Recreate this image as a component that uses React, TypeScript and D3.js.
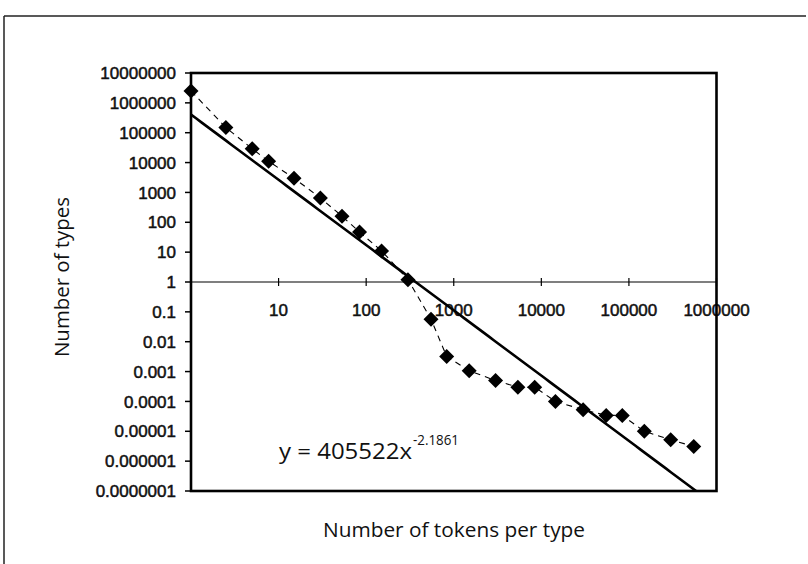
import React from "react";
import * as d3 from "d3";

const tokensPerType = [1, 2.5, 5, 7.7, 15, 30, 53, 84, 150, 300, 550, 830, 1500, 3000, 5400, 8400, 14500, 30000, 55000, 84000, 150000, 300000, 550000];
const numberOfTypes = [2500000, 150000, 29000, 11000, 3000, 650, 160, 47, 11, 1.2, 0.057, 0.0032, 0.00107, 0.0005, 0.0003, 0.0003, 0.0001, 0.000053, 0.000034, 0.000034, 0.00001, 0.0000052, 0.0000031];
const yTickLabels = ["10000000", "1000000", "100000", "10000", "1000", "100", "10", "1", "0.1", "0.01", "0.001", "0.0001", "0.00001", "0.000001", "0.0000001"];
const xTickLabels = ["10", "100", "1000", "10000", "100000", "1000000"];
const fitCoef = 405522;
const fitExp = -2.1861;
const xTitle = "Number of tokens per type";
const yTitle = "Number of types";

const W = 808, H = 564;
const L = 191, R = 716.5, T = 73, B = 491;

export default function App() {
  const x = d3.scaleLog().domain([1, 1e6]).range([L, R]);
  const y = d3.scaleLog().domain([1e-7, 1e7]).range([B, T]);
  const yVals = yTickLabels.map(Number);
  const xVals = xTickLabels.map(Number);
  const pts = tokensPerType.map((t, i) => [t, numberOfTypes[i]] as [number, number]);
  const line = d3.line<[number, number]>().x(d => x(d[0])).y(d => y(d[1]));
  const xEnd = Math.pow(1e-7 / fitCoef, 1 / fitExp);
  const fitPts: [number, number][] = d3.range(0, 101).map(i => {
    const xv = Math.pow(10, (Math.log10(xEnd) * i) / 100);
    return [xv, fitCoef * Math.pow(xv, fitExp)];
  });
  const tickFont = "'Liberation Sans', Arial, sans-serif";
  const titleFont = "'Open Sans', sans-serif";
  return (
    <svg width={W} height={H} style={{ position: "absolute", left: 0, top: 0, background: "#fff" }}>
      {/* outer frame (top and left edges visible) */}
      <line x1={4} y1={16} x2={806} y2={16} stroke="#222" strokeWidth={1.5} />
      <line x1={4} y1={16} x2={4} y2={564} stroke="#222" strokeWidth={1.5} />

      <defs>
        <clipPath id="plot">
          <rect x={L} y={T} width={R - L} height={B - T} />
        </clipPath>
      </defs>

      {/* y ticks and labels */}
      {yVals.map((v, i) => (
        <g key={"y" + i}>
          <line x1={L - 6} x2={L} y1={y(v)} y2={y(v)} stroke="#000" strokeWidth={1.5} />
          <text x={176} y={y(v)} dy="0.36em" textAnchor="end" fontFamily={tickFont} fontSize={17}
            fill="#111" stroke="#111" strokeWidth={0.5}>{yTickLabels[i]}</text>
        </g>
      ))}

      {/* x axis at y = 1 */}
      <line x1={L} x2={R} y1={y(1)} y2={y(1)} stroke="#000" strokeWidth={1.2} />
      {xVals.map((v, i) => (
        <g key={"x" + i}>
          <line x1={x(v)} x2={x(v)} y1={y(1) - 4} y2={y(1) + 4} stroke="#000" strokeWidth={1.2} />
          <text x={x(v)} y={316} textAnchor="middle" fontFamily={tickFont} fontSize={17}
            fill="#111" stroke="#111" strokeWidth={0.5}>{xTickLabels[i]}</text>
        </g>
      ))}

      {/* fitted power line */}
      <path d={line(fitPts) || ""} fill="none" stroke="#000" strokeWidth={2.6} clipPath="url(#plot)" />

      {/* dashed series line */}
      <path d={line(pts) || ""} fill="none" stroke="#000" strokeWidth={1.1} strokeDasharray="6,5" />

      {/* markers */}
      {pts.map((p, i) => (
        <path key={"m" + i} transform={`translate(${x(p[0])},${y(p[1])})`} d="M0,-7.5L7.5,0L0,7.5L-7.5,0Z" fill="#000" />
      ))}

      {/* plot border */}
      <rect x={L} y={T} width={R - L} height={B - T} fill="none" stroke="#000" strokeWidth={2.6} />

      {/* equation */}
      <text x={279} y={459} fontFamily={titleFont} fontSize={22} fill="#111" textLength={133} lengthAdjust="spacingAndGlyphs">
        {`y = ${fitCoef}x`}
      </text>
      <text x={413} y={445} fontFamily={titleFont} fontSize={14} fill="#111" textLength={46} lengthAdjust="spacingAndGlyphs">
        {String(fitExp)}
      </text>

      {/* axis titles */}
      <text x={454} y={537} textAnchor="middle" fontFamily={titleFont} fontSize={20} fill="#111"
        textLength={262} lengthAdjust="spacingAndGlyphs">{xTitle}</text>
      <text transform={`translate(69,277) rotate(-90)`} textAnchor="middle" fontFamily={titleFont} fontSize={20}
        fill="#111" textLength={160} lengthAdjust="spacingAndGlyphs">{yTitle}</text>
    </svg>
  );
}
